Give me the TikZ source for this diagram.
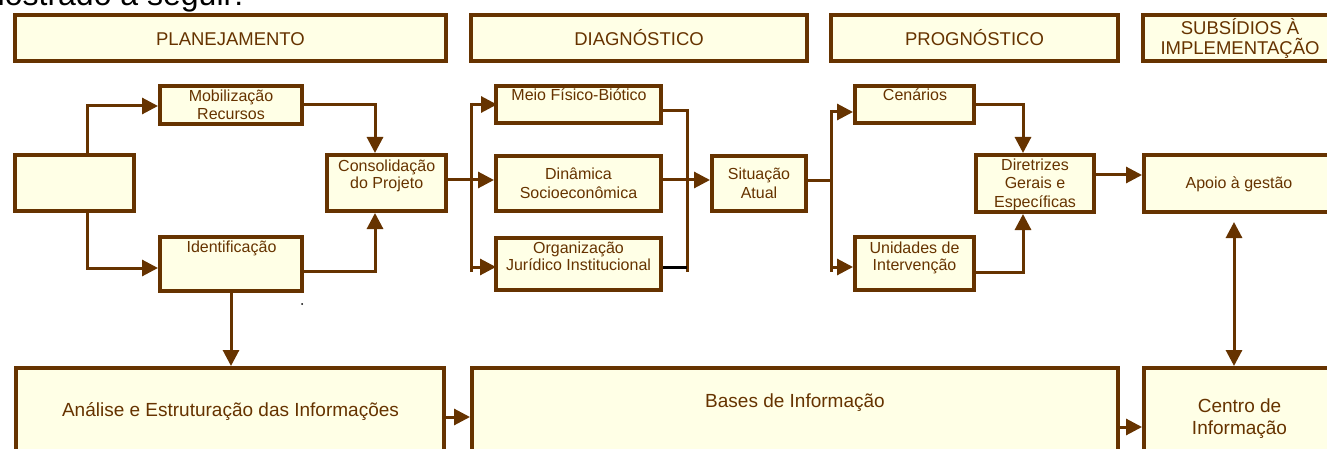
\documentclass[tikz,border=0pt]{standalone}
\usepackage{fontspec}
\setmainfont{Liberation Sans}
\usetikzlibrary{arrows.meta}
\definecolor{br}{RGB}{102,51,0}
\definecolor{cream}{RGB}{255,255,230}
\begin{document}
\begin{tikzpicture}[x=1pt,y=-1pt,
  box/.style={draw=br, line width=4pt, fill=cream, inner sep=0pt},
  conn/.style={draw=br, line width=3pt},
  arr/.style={conn, -{Triangle[length=16pt,width=16pt]}},
  darr/.style={conn, {Triangle[length=16pt,width=16pt]}-{Triangle[length=16pt,width=16pt]}},
  hd/.style={text=br, font=\fontsize{18.5}{20}\selectfont, align=center, inner sep=0pt, anchor=base},
  sm/.style={text=br, font=\fontsize{16}{18.3}\selectfont, align=center, inner sep=0pt, anchor=base},
  bg/.style={text=br, font=\fontsize{19}{21.7}\selectfont, align=center, inner sep=0pt, anchor=base},
]
\useasboundingbox (0,0) rectangle (1327,449);
\fill[white] (0,0) rectangle (1327,449);

% intro text (cut off at top)
\node[anchor=base west, inner sep=0pt, font=\fontsize{32}{32}\selectfont] (intro) at (-22,6) {mostrado a seguir:};

% header boxes
\node[box, minimum width=431pt, minimum height=46pt] (plan) at (230.5,38) {};
\node[box, minimum width=336pt, minimum height=46pt] (diag) at (639,38) {};
\node[box, minimum width=287pt, minimum height=46pt] (prog) at (974.5,38) {};
\node[box, minimum width=202pt, minimum height=46pt] (subs) at (1244,38) {};
\node[hd] (planT) at (230.5,45.6) {PLANEJAMENTO};
\node[hd] (diagT) at (639,45.6) {DIAGNÓSTICO};
\node[hd] (progT) at (974.5,45.6) {PROGNÓSTICO};
\node[hd] (subsT) at (1240,55) {SUBSÍDIOS À\\IMPLEMENTAÇÃO};

% planejamento row
\node[box, minimum width=119pt, minimum height=56pt] (lb) at (74.5,183) {};
\node[box, minimum width=142pt, minimum height=38pt] (mob) at (231,105) {};
\node[box, minimum width=142pt, minimum height=54pt] (ident) at (231,264) {};
\node[box, minimum width=119pt, minimum height=56pt] (cons) at (386.5,183) {};
\node[sm] (mobT) at (231,120) {Mobilização\\Recursos};
\node[sm] (identT) at (231.5,252.7) {Identificação};
\node[sm, font=\fontsize{16}{16.8}\selectfont] (consT) at (386.7,188.3) {Consolidação\\do Projeto};

% diagnostico row
\node[box, minimum width=165pt, minimum height=37pt] (meio) at (578.5,104.5) {};
\node[box, minimum width=165pt, minimum height=55pt] (din) at (578.5,183.5) {};
\node[box, minimum width=165pt, minimum height=52pt] (org) at (578.5,264) {};
\node[box, minimum width=94pt, minimum height=55pt] (sit) at (759,183.5) {};
\node[sm] (meioT) at (579,100.7) {Meio Físico-Biótico};
\node[sm] (dinT) at (578.5,198.3) {Dinâmica\\Socioeconômica};
\node[sm, font=\fontsize{16}{17.4}\selectfont] (orgT) at (578.5,270.7) {Organização\\Jurídico Institucional};
\node[sm] (sitT) at (759,198.3) {Situação\\Atual};

% prognostico row
\node[box, minimum width=119pt, minimum height=37pt] (cen) at (914.5,104.5) {};
\node[box, minimum width=119pt, minimum height=53pt] (uni) at (914.5,263.5) {};
\node[box, minimum width=118pt, minimum height=57pt] (dir) at (1035,183.5) {};
\node[box, minimum width=201pt, minimum height=57pt] (apoio) at (1244.5,183.5) {};
\node[sm] (cenT) at (915,100.7) {Cenários};
\node[sm, font=\fontsize{16}{17.4}\selectfont] (uniT) at (914.5,270.7) {Unidades de\\Intervenção};
\node[sm] (dirT) at (1035,207.3) {Diretrizes\\Gerais e\\Específicas};
\node[sm] (apoioT) at (1239,189) {Apoio à gestão};

% bottom row
\node[box, minimum width=428pt, minimum height=122pt] (analise) at (230,429) {};
\node[box, minimum width=646pt, minimum height=122pt] (bases) at (795,429) {};
\node[box, minimum width=201pt, minimum height=122pt] (centro) at (1244.5,429) {};
\node[bg] (analiseT) at (230.5,416) {Análise e Estruturação das Informações};
\node[bg] (basesT) at (795,407.3) {Bases de Informação};
\node[bg] (centroT) at (1239.5,434.3) {Centro de\\Informação};

% helper coordinates
\coordinate (bLt) at (471,103);
\coordinate (bLb) at (471,272);
\coordinate (bRb) at (687,272);
\coordinate (bPt) at (831.5,110);
\coordinate (bPb) at (831.5,272);
\coordinate (aY) at (0,417);
\coordinate (bY) at (0,427);

% planejamento connectors
\draw[arr] ([xshift=12.5pt]lb.north) |- ([yshift=-1pt]mob.west);
\draw[arr] (mob.east) -| ([xshift=-11.5pt]cons.north);
\draw[arr] ([xshift=12.5pt]lb.south) |- ([yshift=-4pt]ident.west);
\draw[arr] ([yshift=-7pt]ident.east) -| ([xshift=-11.5pt]cons.south);
\draw[arr] (ident.south) -- (ident.south |- analise.north);
\fill[black] (302,304) circle (1pt);

% diagnostico connectors
\draw[arr] ([yshift=3pt]cons.east) -- ([yshift=3.5pt]din.west);
\draw[conn] (bLt) -- (bLb);
\draw[arr] (bLt |- meio.west) -- ([xshift=3pt]meio.west);
\draw[arr] (bLt |- 0,267) -- ([yshift=-3pt,xshift=2pt]org.west);
\draw[conn] ([yshift=-6.5pt]meio.east) -| (bRb);
\draw[line width=3pt, black] ([yshift=-3pt]org.east) -- (bRb |- 0,267);
\draw[arr] ([yshift=3.5pt]din.east) -- ([yshift=3.5pt]sit.west);

% prognostico connectors
\draw[conn] ([yshift=2.5pt]sit.east) -- (bPt |- 0,181);
\draw[conn] (bPt) -- (bPb);
\draw[arr] (bPt |- 0,112) -- ([yshift=-7.5pt]cen.west);
\draw[arr] (bPt |- 0,267) -- ([yshift=-3.5pt]uni.west);
\draw[arr] (cen.east) -| ([xshift=-12pt]dir.north);
\draw[arr] ([yshift=-8.5pt]uni.east) -| ([xshift=-12pt]dir.south);
\draw[arr] ([yshift=8.5pt]dir.east) -- ([yshift=8.5pt]apoio.west);
\draw[darr] ([xshift=-10.5pt,yshift=-8pt]apoio.south) -- ([xshift=-10.5pt]centro.north);

% bottom connectors
\draw[arr] (analise.east |- aY) -- (bases.west |- aY);
\draw[arr] (bases.east |- bY) -- (centro.west |- bY);
\end{tikzpicture}
\end{document}
